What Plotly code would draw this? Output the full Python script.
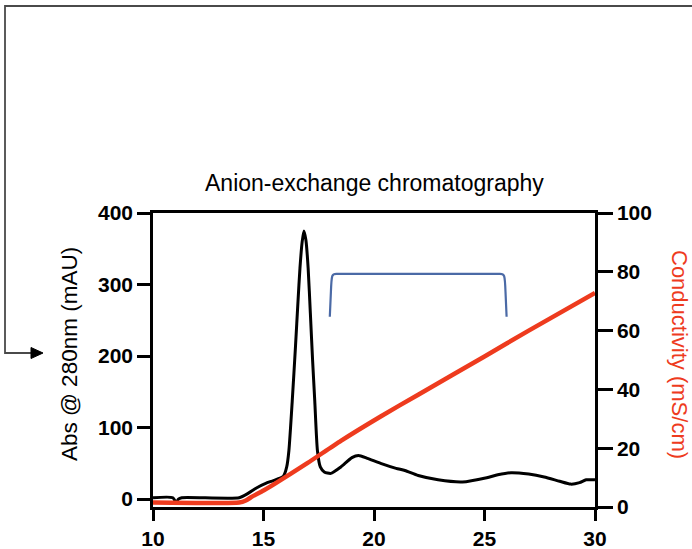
import plotly.graph_objects as go

# ---------------- data ----------------
time_abs = [10.0, 10.9, 11.05, 11.15, 11.3, 13.9, 14.3, 14.7, 15.1, 15.45, 15.9, 16.05,
            16.15, 16.3, 16.45, 16.56, 16.65, 16.75, 16.83, 16.92, 17.02, 17.12, 17.22,
            17.32, 17.44, 17.57, 17.75, 18.05, 18.5, 19.0, 19.3, 19.7, 20.3, 21.0, 21.4,
            22.0, 22.9, 24.0, 25.1, 25.6, 26.2, 27.0, 27.7, 28.4, 28.9, 29.3, 29.6, 30.0]
abs280 = [2, 2, -5, 0, 2, 2, 8, 16, 22, 26, 32, 45,
          68, 137, 215, 276, 323, 360, 375, 362, 323, 260, 195,
          137, 68, 45, 38, 36, 45, 58, 61, 57, 50, 43, 40,
          33, 27, 24, 30, 34, 37, 35, 31, 25, 21, 23, 27, 27]

time_cond = [10.0, 13.9, 14.2, 14.5, 15.0, 15.45, 17.0, 18.5, 20.3, 22.0, 25.0, 27.0, 30.0]
conductivity = [1.5, 1.5, 2.2, 3.6, 5.6, 7.6, 15.0, 22.5, 30.8, 38.2, 51.2, 60.0, 72.8]

x_ticks = [10, 15, 20, 25, 30]
left_ticks = [0, 100, 200, 300, 400]
right_ticks = [0, 20, 40, 60, 80, 100]

bracket_x = [18.0, 26.0]       # pooled-fraction bracket (minutes)
bracket_y = [255, 315]         # bottom / top in mAU

title_text = "Anion-exchange chromatography"
left_title = "Abs @ 280nm (mAU)"
right_title = "Conductivity (mS/cm)"

# ---------------- layout geometry ----------------
W, H = 692, 549
L, R, T, B = 153, 97, 213, 42
PW, PH = W - L - R, H - T - B


def px(xp):
    return (xp - L) / PW


def py(yp):
    return (H - B - yp) / PH


FONT = "Liberation Sans, Arial, sans-serif"
RED = "#EE3B1E"
BLUE = "#4B6AA6"

fig = go.Figure()
fig.add_trace(go.Scatter(x=time_cond, y=conductivity, yaxis="y2", mode="lines",
                         line=dict(color=RED, width=4.5, shape="spline", smoothing=0.5),
                         hoverinfo="skip", showlegend=False))
fig.add_trace(go.Scatter(x=time_abs, y=abs280, mode="lines",
                         line=dict(color="black", width=3, shape="spline", smoothing=0.6),
                         hoverinfo="skip", showlegend=False))

axis_common = dict(showgrid=False, zeroline=False, showline=True, linecolor="black",
                   linewidth=2.5, ticks="outside", tickwidth=2.5, tickcolor="black",
                   tickfont=dict(family=FONT, size=21, color="black", weight="bold"))

fig.update_layout(
    width=W, height=H,
    margin=dict(l=L, r=R, t=T, b=B, autoexpand=False),
    paper_bgcolor="white", plot_bgcolor="white",
    xaxis=dict(range=[10, 30], tickvals=x_ticks, ticklen=11, mirror=True, **axis_common),
    yaxis=dict(range=[-11, 400], tickvals=left_ticks, ticklen=13, **axis_common),
    yaxis2=dict(range=[0, 100], tickvals=right_ticks, ticklen=15, overlaying="y",
                side="right", **axis_common),
    showlegend=False,
)

# bracket
x0, x1 = bracket_x
yb, yt = bracket_y
dx = 0.3
ymid = yt - 25
bracket_path = (f"M {x0},{yb} L {x0+0.05},{ymid} C {x0+0.08},{yt} {x0+0.1},{yt} {x0+dx},{yt} "
                f"L {x1-dx},{yt} C {x1-0.1},{yt} {x1-0.08},{yt} {x1-0.05},{ymid} L {x1},{yb}")
fig.add_shape(type="path", path=bracket_path, xref="x", yref="y",
              line=dict(color=BLUE, width=2.2))

# connector arrow from outside
conn = (f"M {px(700)},{py(6)} L {px(5)},{py(6)} L {px(5)},{py(353)} L {px(33)},{py(353)}")
fig.add_shape(type="path", path=conn, xref="paper", yref="paper",
              line=dict(color="#4a4a4a", width=1.8))
head = f"M {px(31)},{py(347.5)} L {px(43)},{py(353)} L {px(31)},{py(358.5)} Z"
fig.add_shape(type="path", path=head, xref="paper", yref="paper",
              line=dict(color="black", width=1), fillcolor="black")

# titles
fig.add_annotation(x=px(374), y=py(183), xref="paper", yref="paper", text=title_text,
                   showarrow=False, xanchor="center", yanchor="middle",
                   font=dict(family=FONT, size=23, color="black"))
fig.add_annotation(x=px(69), y=py(354), xref="paper", yref="paper", text=left_title,
                   showarrow=False, textangle=-90, xanchor="center", yanchor="middle",
                   font=dict(family=FONT, size=22.5, color="black"))
fig.add_annotation(x=px(680), y=py(354), xref="paper", yref="paper", text=right_title,
                   showarrow=False, textangle=90, xanchor="center", yanchor="middle",
                   font=dict(family=FONT, size=22, color=RED))

fig.write_html("out.html", config={"displayModeBar": False},
               post_script="document.body.style.margin='0';document.body.style.overflow='hidden';")
